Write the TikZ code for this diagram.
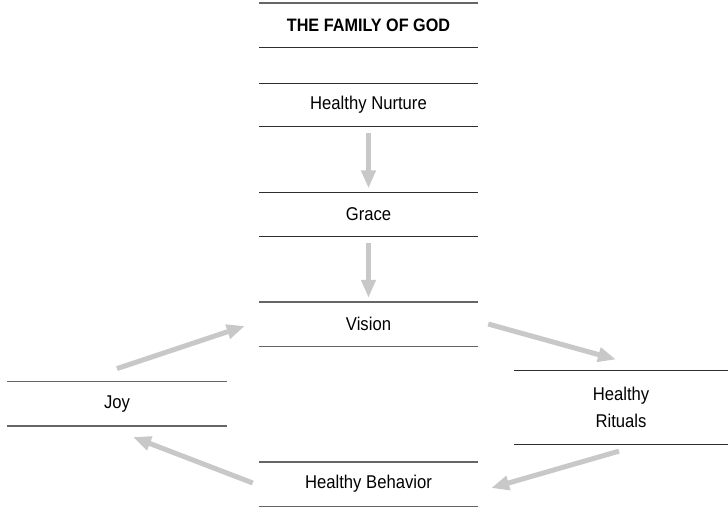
\documentclass[tikz,border=0pt]{standalone}
\usepackage{fontspec}
\setmainfont{Liberation Sans}[FakeStretch=0.9]
\usetikzlibrary{arrows.meta}
\definecolor{arrgray}{HTML}{C8C8C8}
\definecolor{linedark}{HTML}{2E2E2E}
\definecolor{linegray}{HTML}{666666}
\tikzset{
  box/.style={minimum height=44pt, inner sep=0pt, font=\fontsize{18.5}{22}\selectfont, align=center},
  dk/.style={draw=linedark, line width=1.3pt},
  gy/.style={draw=linegray, line width=1.4pt},
  arr/.style={draw=arrgray, line width=5pt, -{Triangle[length=18pt,width=14pt]}},
}
\newcommand{\rules}[2]{\draw[#2] (#1.north west) -- (#1.north east); \draw[#2] (#1.south west) -- (#1.south east);}
\begin{document}
\begin{tikzpicture}[x=1pt,y=-1pt]
\useasboundingbox (0,0) rectangle (728,507);
\node[box, minimum width=219pt, font=\fontsize{18}{22}\selectfont\bfseries] (title) at (368.5,25.3) {THE FAMILY OF GOD};
\node[box, minimum width=219pt, minimum height=43pt] (nurture) at (368.5,105) {Healthy Nurture};
\node[box, minimum width=219pt] (grace) at (368.5,214.5) {Grace};
\node[box, minimum width=219pt] (vision) at (368.5,324) {Vision};
\node[box, minimum width=220pt] (joy) at (117,403.8) {Joy};
\node[box, minimum width=214pt, minimum height=73.3pt, font=\fontsize{18.5}{27.5}\selectfont] (rituals) at (621,407.3) {Healthy\\Rituals};
\node[box, minimum width=219pt] (behavior) at (368.5,484) {Healthy Behavior};
\draw[gy] (title.north west) -- (title.north east);
\draw[dk] (title.south west) -- (title.south east);
\rules{nurture}{dk}
\rules{grace}{dk}
\rules{vision}{gy}
\rules{joy}{gy}
\rules{rituals}{dk}
\rules{behavior}{gy}
\draw[arr] ([yshift=-6pt]nurture.south) -- ([yshift=4pt]grace.north);
\draw[arr] ([yshift=-6pt]grace.south) -- ([yshift=4pt]vision.north);
\draw[arr] ([yshift=13pt]joy.north) -- ([xshift=-14pt,yshift=-2pt]vision.west);
\draw[arr] ([xshift=10pt]vision.east) -- ([xshift=-5pt,yshift=11pt]rituals.north);
\draw[arr] ([xshift=-2pt,yshift=-7pt]rituals.south) -- ([xshift=13pt,yshift=-4pt]behavior.east);
\draw[arr] ([xshift=-6pt,yshift=1pt]behavior.west) -- ([xshift=16pt,yshift=-11pt]joy.south);
\end{tikzpicture}
\end{document}
